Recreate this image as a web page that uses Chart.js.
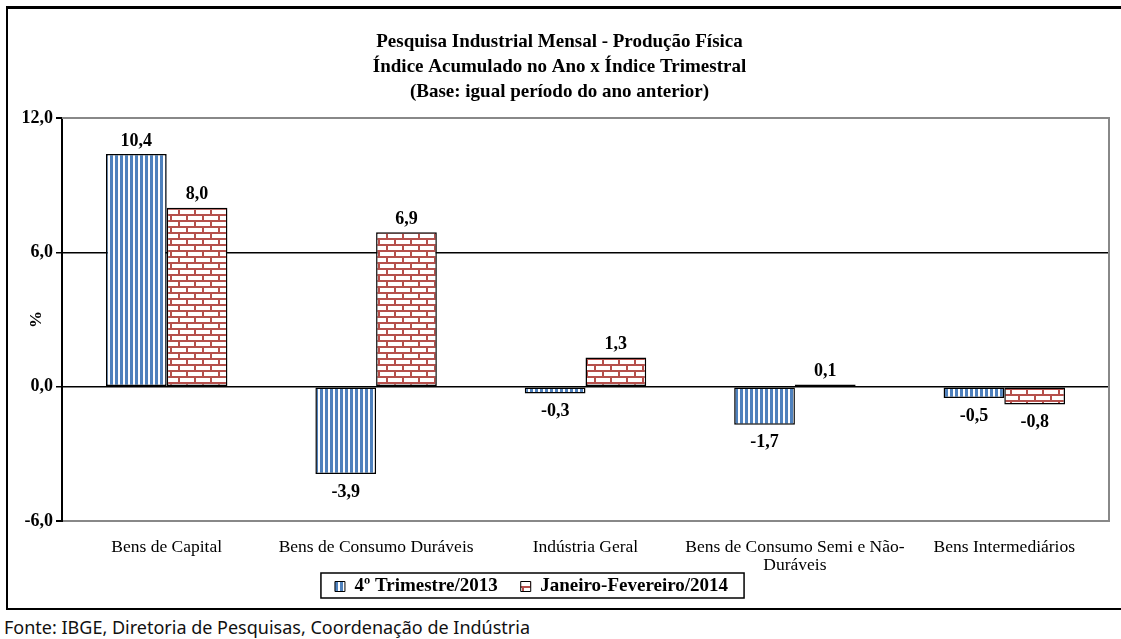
<!DOCTYPE html>
<html>
<head>
<meta charset="utf-8">
<script src="https://cdn.jsdelivr.net/npm/chart.js@4"></script>
<style>
  body { margin: 0; background: #fff; width: 1121px; height: 639px; overflow: hidden; position: relative; }
  #frame { position: absolute; left: 6px; top: 6px; width: 1115px; height: 599px;
           border-left: 2px solid #000; border-top: 3px solid #000; border-bottom: 2px solid #000; }
  #wrap { position: absolute; left: 10px; top: 10px; width: 1111px; height: 596px; }
  #fonte { position: absolute; left: 4px; top: 615px; font: 18px "Noto Sans", sans-serif; color: #111; }
</style>
</head>
<body>
<div id="frame"></div>
<div id="wrap"><canvas id="chart"></canvas></div>
<div id="fonte">Fonte: IBGE, Diretoria de Pesquisas, Coordenação de Indústria</div>
<script>
// ---- data ----
const categories = [
    'Bens de Capital',
    'Bens de Consumo Duráveis',
    'Indústria Geral',
    ['Bens de Consumo Semi e Não-', 'Duráveis'],
    'Bens Intermediários'
];
const trimestre2013 = [10.4, -3.9, -0.3, -1.7, -0.5];
const janFev2014 = [8.0, 6.9, 1.3, 0.1, -0.8];
const seriesNames = ['4º Trimestre/2013', 'Janeiro-Fevereiro/2014'];
const yTicks = [-6, 0, 6, 12];
const titleLines = [
    'Pesquisa Industrial Mensal - Produção Física',
    'Índice Acumulado no Ano x Índice Trimestral',
    '(Base: igual período do ano anterior)'
];

const SERIF = '"Liberation Serif", "Times New Roman", serif';
const fmt = v => v.toFixed(1).replace('.', ',');

// ---- fill patterns ----
function stripePattern() {
    const c = document.createElement('canvas');
    c.width = 5; c.height = 10;
    const g = c.getContext('2d');
    g.fillStyle = '#fff'; g.fillRect(0, 0, 5, 10);
    g.fillStyle = '#4f81bd'; g.fillRect(0, 0, 3, 10);
    return g.createPattern(c, 'repeat');
}
function brickPattern() {
    const c = document.createElement('canvas');
    c.width = 16; c.height = 12;
    const g = c.getContext('2d');
    g.fillStyle = '#fff'; g.fillRect(0, 0, 16, 12);
    g.fillStyle = '#b5504c';
    g.fillRect(0, 0, 16, 2);
    g.fillRect(0, 6, 16, 2);
    g.fillRect(0, 0, 2, 6);
    g.fillRect(8, 6, 2, 6);
    return g.createPattern(c, 'repeat');
}

// ---- plugins ----
const plotFrame = {
    id: 'plotFrame',
    beforeDatasetsDraw(chart) {
        const a = chart.chartArea, ctx = chart.ctx;
        ctx.save();
        ctx.strokeStyle = '#888';
        ctx.lineWidth = 2;
        ctx.beginPath();
        ctx.moveTo(a.left, a.top);
        ctx.lineTo(a.right, a.top);
        ctx.lineTo(a.right, a.bottom);
        ctx.stroke();
        ctx.restore();
    }
};

const valueLabels = {
    id: 'valueLabels',
    afterDatasetsDraw(chart) {
        const ctx = chart.ctx;
        ctx.save();
        ctx.font = 'bold 18px ' + SERIF;
        ctx.fillStyle = '#000';
        ctx.textAlign = 'center';
        chart.data.datasets.forEach((ds, i) => {
            chart.getDatasetMeta(i).data.forEach((bar, j) => {
                const v = ds.data[j];
                if (v >= 0) {
                    ctx.textBaseline = 'bottom';
                    ctx.fillText(fmt(v), bar.x, bar.y - 4);
                } else {
                    ctx.textBaseline = 'top';
                    ctx.fillText(fmt(v), bar.x, bar.y + 9);
                }
            });
        });
        ctx.restore();
    }
};

// legend sits a little left of centre in the original
const legendShift = {
    id: 'legendShift',
    afterLayout(chart) {
        chart.legend.left -= 28;
        chart.legend.right -= 28;
    }
};

const legendBox = {
    id: 'legendBox',
    afterDraw(chart) {
        const boxes = chart.legend.legendHitBoxes;
        if (!boxes || !boxes.length) return;
        const left = Math.min(...boxes.map(b => b.left)) - 14;
        const right = Math.max(...boxes.map(b => b.left + b.width)) + 16;
        const top = Math.min(...boxes.map(b => b.top)) - 4;
        const bottom = Math.max(...boxes.map(b => b.top + b.height)) + 2;
        const ctx = chart.ctx;
        ctx.save();
        ctx.strokeStyle = '#000';
        ctx.lineWidth = 1.5;
        ctx.strokeRect(left, top, right - left, bottom - top);
        ctx.restore();
    }
};

// ---- chart ----
new Chart(document.getElementById('chart'), {
    type: 'bar',
    data: {
        labels: categories,
        datasets: [
            { label: seriesNames[0], data: trimestre2013, backgroundColor: stripePattern(),
              borderColor: '#000', borderWidth: 1.5, borderSkipped: false },
            { label: seriesNames[1], data: janFev2014, backgroundColor: brickPattern(),
              borderColor: '#000', borderWidth: 1.5, borderSkipped: false }
        ]
    },
    options: {
        responsive: true,
        maintainAspectRatio: false,
        animation: false,
        datasets: { bar: { categoryPercentage: 0.58, barPercentage: 1 } },
        layout: { padding: { left: 0, right: 12, top: 0, bottom: 0 } },
        plugins: {
            title: {
                display: true,
                text: titleLines,
                color: '#000',
                font: { family: SERIF, size: 19, weight: 'bold', lineHeight: 1.3 },
                padding: { top: 20, bottom: 14 }
            },
            legend: {
                position: 'bottom',
                labels: {
                    color: '#000',
                    font: { family: SERIF, size: 19, weight: 'bold', lineHeight: 1.0 },
                    boxWidth: 10, boxHeight: 10, padding: 4,
                    generateLabels(chart) {
                        // extra em space keeps the gap between the two entries
                        return chart.data.datasets.map((ds, i) => ({
                            text: i === 0 ? ds.label + '\u2003' : ds.label,
                            fillStyle: ds.backgroundColor,
                            strokeStyle: '#000', lineWidth: 1, datasetIndex: i, fontColor: '#000'
                        }));
                    }
                }
            },
            tooltip: { enabled: false }
        },
        scales: {
            x: {
                grid: { display: false },
                border: { display: true, color: '#888', width: 2 },
                ticks: { color: '#000', font: { family: SERIF, size: 17.5, lineHeight: 1.0 },
                         maxRotation: 0, autoSkip: false, padding: 10 },
                afterFit(scale) { scale.height = 52; }
            },
            y: {
                min: -6, max: 12,
                afterBuildTicks(scale) { scale.ticks = yTicks.map(v => ({ value: v })); },
                ticks: { color: '#000', font: { family: SERIF, size: 18, weight: 'bold' },
                         callback: v => fmt(v), padding: 3 },
                grid: {
                    color: c => (c.tick && (c.tick.value === 0 || c.tick.value === 6)) ? '#000' : '#888',
                    lineWidth: c => (c.tick && (c.tick.value === 0 || c.tick.value === 6)) ? 1.5 : 2,
                    tickColor: '#000', tickLength: 6, drawOnChartArea: true
                },
                border: { display: true, color: '#000', width: 2 },
                title: { display: true, text: '%', color: '#000',
                         font: { family: SERIF, size: 17, weight: 'bold' }, padding: { top: 16, bottom: 0 } },
                afterFit(scale) { scale.width = 52; }
            }
        }
    },
    plugins: [plotFrame, valueLabels, legendShift, legendBox]
});
</script>
</body>
</html>
